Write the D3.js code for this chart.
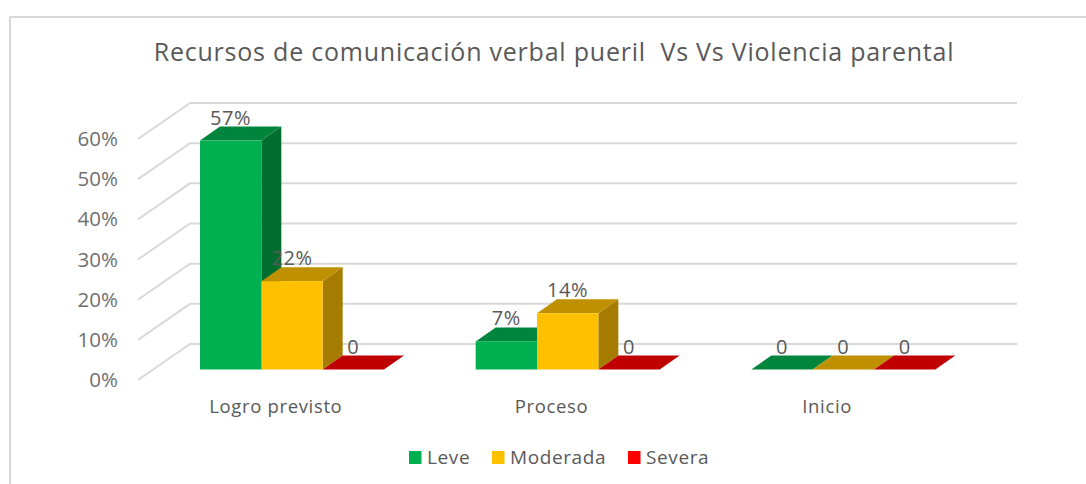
<!DOCTYPE html>
<html><head><meta charset="utf-8">
<script src="https://d3js.org/d3.v7.min.js"></script>
<style>html,body{margin:0;padding:0;background:#fff}svg{display:block}text{font-family:"Open Sans",sans-serif;fill:#595959}</style>
</head><body><svg id="c" width="1086" height="484"></svg>
<script>
const categories = ["Logro previsto", "Proceso", "Inicio"];
const seriesNames = ["Leve", "Moderada", "Severa"];
const leve = [0.57, 0.07, 0];
const moderada = [0.22, 0.14, 0];
const severa = [0, 0, 0];
const labelsLeve = ["57%", "7%", "0"];
const labelsModerada = ["22%", "14%", "0"];
const labelsSevera = ["0", "0", "0"];
const yTicks = [0, 0.1, 0.2, 0.3, 0.4, 0.5, 0.6];
const title = "Recursos de comunicación verbal pueril  Vs Vs Violencia parental";

const values = [leve, moderada, severa];
const labels = [labelsLeve, labelsModerada, labelsSevera];
const colors = [
  {front:"#00B050", top:"#00863C", side:"#006E2F"},
  {front:"#FFC000", top:"#BF9000", side:"#A67C00"},
  {front:"#FF0000", top:"#C00000", side:"#A60000"}
];
const svg = d3.select("#c");
svg.append("path").attr("d","M10,484V17H1086").attr("fill","none").attr("stroke","#d9d9d9").attr("stroke-width",2);

svg.append("text").attr("x",554).attr("y",61).attr("text-anchor","middle")
  .attr("font-size",25).attr("letter-spacing",0.78).style("white-space","pre").text(title);

const y = d3.scaleLinear().domain([0,0.6]).range([0,-241]);
const x0 = d3.scaleBand().domain(categories).range([138,965]);
const x1 = d3.scaleBand().domain(seriesNames).range([46,230]);
const wallDx = 52, wallDy = -36, backY = 344, frontBase = 369.5, barOffsetX = 16;
const barDx = 20, barDy = -14;

// walls
const grid = svg.append("g").attr("fill","none").attr("stroke","#d9d9d9").attr("stroke-width",2);
yTicks.forEach(t=>{
  const yb = backY + y(t);
  grid.append("path").attr("d",`M138,${yb-wallDy}L${138+wallDx},${yb}H${965+wallDx}`);
});

// bars
const bars = svg.append("g");
categories.forEach((c,i)=>{
  seriesNames.forEach((s,j)=>{
    const v = values[j][i], col = colors[j];
    const xl = x0(c)+barOffsetX+x1(s), xr = xl+x1.bandwidth();
    const yb = frontBase, yt = frontBase+y(v);
    const poly=(pts,fill)=>bars.append("polygon").attr("points",pts.map(p=>p.join(",")).join(" ")).attr("fill",fill);
    if(v>0) poly([[xr,yt],[xr+barDx,yt+barDy],[xr+barDx,yb+barDy],[xr,yb]],col.side);
    poly([[xl,yt],[xl+barDx,yt+barDy],[xr+barDx,yt+barDy],[xr,yt]],col.top);
    if(v>0) bars.append("rect").attr("x",xl).attr("y",yt).attr("width",xr-xl).attr("height",yb-yt).attr("fill",col.front);
  });
});
// data labels
categories.forEach((c,i)=>{
  seriesNames.forEach((s,j)=>{
    svg.append("text").attr("x",x0(c)+barOffsetX+x1(s)+x1.bandwidth()/2)
      .attr("y",frontBase+y(values[j][i])-16).attr("text-anchor","middle")
      .attr("font-size",20).attr("letter-spacing",0.6).text(labels[j][i]);
  });
});

// axes
const yAxisScale = d3.scaleLinear().domain([0,0.6]).range([380,139]);
const ya = svg.append("g").attr("transform","translate(126,0)")
  .call(d3.axisLeft(yAxisScale).tickValues(yTicks).tickFormat(d3.format(".0%")).tickSize(0).tickPadding(8));
ya.select(".domain").remove();
ya.selectAll("text").attr("font-size",20.5).style("font-family",'"Open Sans",sans-serif').style("fill","#6f6f6f");
const xa = svg.append("g").attr("transform","translate(0,392)")
  .call(d3.axisBottom(x0).tickSize(0).tickPadding(8));
xa.select(".domain").remove();
xa.selectAll("text").attr("font-size",18.5).attr("letter-spacing",0.65).style("font-family",'"Open Sans",sans-serif').style("fill","#595959");

// legend
const legendX = d3.scaleOrdinal().domain(seriesNames).range([409,492,628]);
seriesNames.forEach((s,j)=>{
  svg.append("rect").attr("x",legendX(s)).attr("y",451).attr("width",12.5).attr("height",13).attr("fill",colors[j].front);
  svg.append("text").attr("x",legendX(s)+18).attr("y",464).attr("font-size",19).attr("letter-spacing",0.6).text(s);
});
</script></body></html>
